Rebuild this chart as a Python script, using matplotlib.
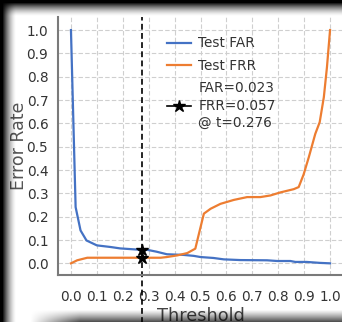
import numpy as np
import matplotlib
matplotlib.use("Agg")
import matplotlib.pyplot as plt

# ---- data ----
far_t = [0.0, 0.018, 0.037, 0.06, 0.10, 0.153, 0.19, 0.27, 0.294, 0.33, 0.37,
         0.436, 0.474, 0.50, 0.55, 0.59, 0.654, 0.757, 0.796, 0.847, 0.866,
         0.91, 0.96, 1.0]
far_v = [1.0, 0.241, 0.141, 0.098, 0.077, 0.070, 0.064, 0.058, 0.058, 0.050,
         0.039, 0.036, 0.032, 0.027, 0.023, 0.017, 0.014, 0.013, 0.010, 0.010,
         0.006, 0.006, 0.002, 0.0]
frr_t = [0.0, 0.024, 0.063, 0.20, 0.346, 0.37, 0.41, 0.449, 0.48, 0.494,
         0.513, 0.539, 0.577, 0.629, 0.68, 0.731, 0.77, 0.808, 0.86, 0.879,
         0.898, 0.918, 0.943, 0.96, 0.976, 0.988, 1.0]
frr_v = [0.0, 0.013, 0.024, 0.024, 0.024, 0.027, 0.034, 0.044, 0.063, 0.127,
         0.213, 0.234, 0.255, 0.272, 0.284, 0.284, 0.291, 0.304, 0.318, 0.327,
         0.381, 0.455, 0.555, 0.605, 0.712, 0.84, 1.0]
op_t = 0.276
op_far = 0.023
op_frr = 0.057
xticks = [0.0, 0.1, 0.2, 0.3, 0.4, 0.5, 0.6, 0.7, 0.8, 0.9, 1.0]
yticks = [0.0, 0.1, 0.2, 0.3, 0.4, 0.5, 0.6, 0.7, 0.8, 0.9, 1.0]

NARROW = ["Liberation Sans Narrow", "DejaVu Sans Condensed", "DejaVu Sans"]
plt.rcParams["font.family"] = NARROW

W, H = 342, 322
fig = plt.figure(figsize=(W / 100, H / 100), dpi=100)
fig.patch.set_facecolor("white")

ax = fig.add_axes([58 / W, 47 / H, (343 - 58) / W, (275 - 17) / H])
ax.set_facecolor("none")
for s in ["top", "right"]:
    ax.spines[s].set_visible(False)
for s in ["left", "bottom"]:
    ax.spines[s].set_color("#7a7a7a")
    ax.spines[s].set_linewidth(1.5)

ax.grid(True, color="#cfcfcf", linestyle="--", linewidth=0.8, dashes=(4, 2))
ax.set_axisbelow(True)

ax.plot(far_t, far_v, color="#4472C4", lw=1.6, label="Test FAR")
ax.plot(frr_t, frr_v, color="#ED7D31", lw=1.6, label="Test FRR")
ax.axvline(op_t, ymin=-0.2, ymax=1.0, color="black", lw=1.2,
           linestyle=(0, (3.5, 2)), clip_on=False)
ax.plot([op_t, op_t], [op_frr, op_far], color="black", marker="*", ms=9,
        lw=1.2, label=f"FAR={op_far:.3f}\nFRR={op_frr:.3f}\n@ t={op_t:.3f}")

ax.set_xlim(-0.05, 1.05)
ax.set_ylim(-0.05, 1.056)
ax.set_xticks(xticks)
ax.set_yticks(yticks)
ax.set_xticklabels([f"{v:.1f}" for v in xticks])
ax.set_yticklabels([f"{v:.1f}" for v in yticks])
ax.tick_params(axis="both", length=0, labelsize=9.8, labelcolor="#333333")
ax.tick_params(axis="y", pad=7)
ax.tick_params(axis="x", pad=11)

ax.set_ylabel("Error Rate", fontsize=12.5, color="#555555",
              family="DejaVu Sans", labelpad=-1)
ax.set_xlabel("Threshold", fontsize=12.8, color="#444444", labelpad=2)

leg = ax.legend(loc="upper left", bbox_to_anchor=((167 - 58) / 285, 0.925),
                frameon=False, fontsize=9.8, borderaxespad=0, borderpad=0,
                handlelength=1.75, handletextpad=0.55, labelspacing=0.62)
for t in leg.get_texts():
    t.set_color("#333333")
    t.set_linespacing(1.3)

# ---- screenshot vignette (dark edges) ----
yy, xx = np.mgrid[0:H, 0:W].astype(float)
a_left = np.clip(1 - (xx - 2) / 14, 0, 1) ** 1.6
a_top = np.clip(1 - (yy - 2) / 14, 0, 1) ** 1.6
a_bot = 0.75 * np.clip((yy - 309) / 13, 0, 1) ** 1.2 * np.clip((xx - 30) / 50, 0, 1)
alpha = 1 - (1 - a_left) * (1 - a_top) * (1 - a_bot)
rgba = np.zeros((H, W, 4))
rgba[..., 3] = alpha
ov = fig.add_axes([0, 0, 1, 1], zorder=10)
ov.imshow(rgba, extent=(0, W, H, 0), aspect="auto", interpolation="bilinear")
ov.set_xlim(0, W)
ov.set_ylim(H, 0)
ov.axis("off")

fig.savefig("out.png", dpi=100)
